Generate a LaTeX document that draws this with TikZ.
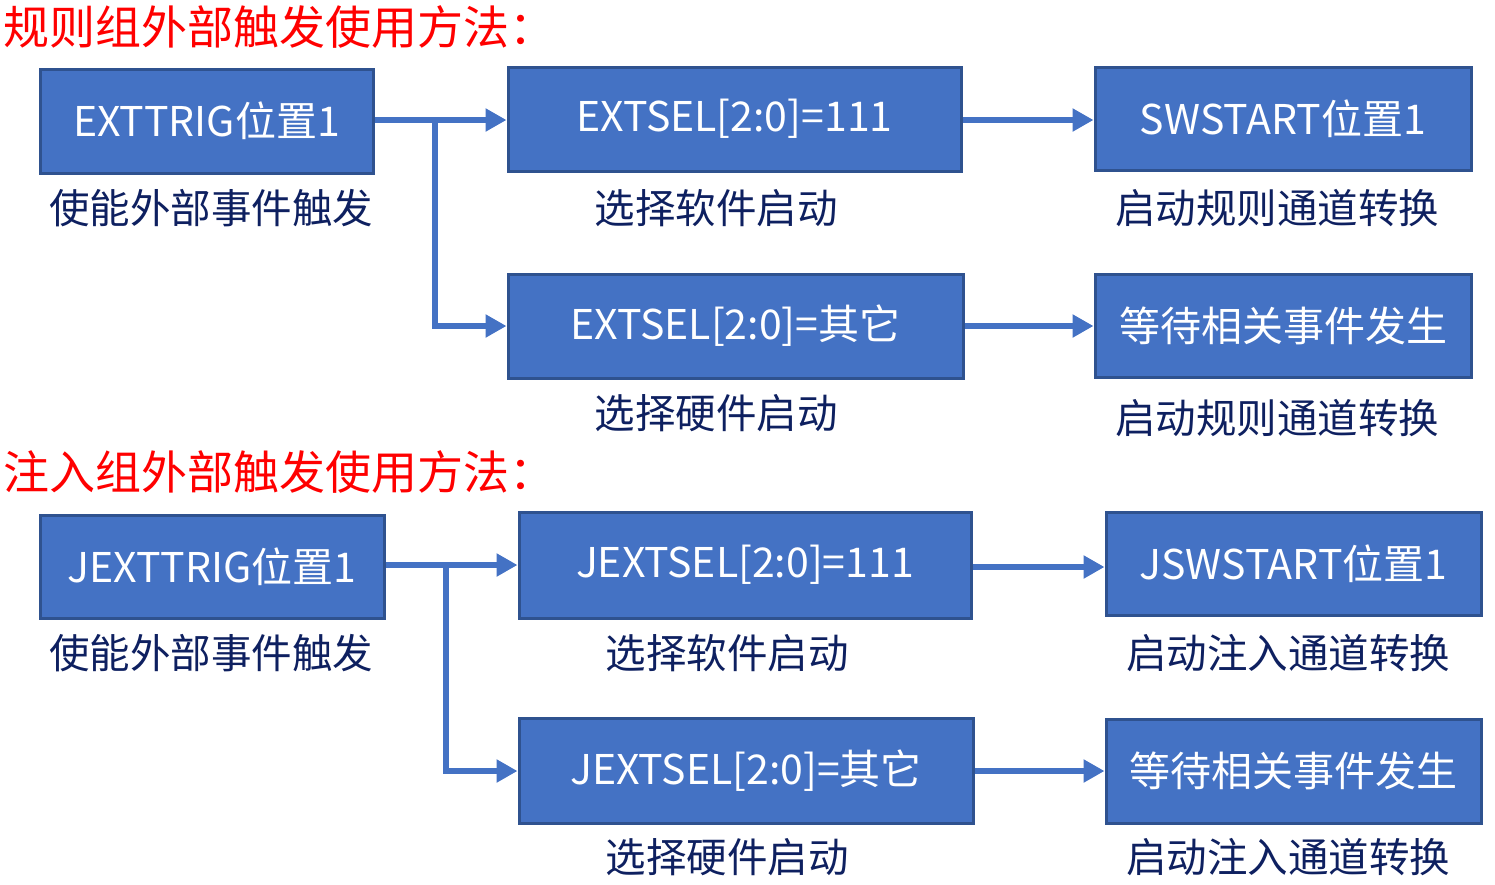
\documentclass[tikz,border=0pt]{standalone}
\usepackage{fontspec}
\setmainfont{Noto Sans CJK SC}
\usetikzlibrary{arrows.meta}
\definecolor{boxfill}{HTML}{4472C4}
\definecolor{boxline}{HTML}{2F528F}
\definecolor{lbl}{HTML}{0E2060}
\definecolor{ttl}{HTML}{FF0000}
\tikzset{
  blk/.style={draw=boxline, line width=3pt, fill=boxfill, text=white, inner sep=0pt,
    font=\fontsize{41}{45}\selectfont},
  lab/.style={text=lbl, inner sep=0pt, font=\fontsize{40.5}{44}\selectfont},
  ttlnode/.style={text=ttl, inner sep=0pt, anchor=west, font=\fontsize{46}{50}\selectfont},
  conn/.style={draw=boxfill, line width=6pt, -{Triangle[length=21pt,width=22pt]}},
  seg/.style={draw=boxfill, line width=6pt}
}
\begin{document}
\begin{tikzpicture}[x=1pt,y=-1pt]
\useasboundingbox (0,0) rectangle (1495,884);
% section 1
\node[ttlnode] (T1) at (3,27) {规则组外部触发使用方法：};
\node[blk, minimum width=333pt, minimum height=104pt] (A1) at (206.5,121) {EXTTRIG位置1};
\node[blk, minimum width=453pt, minimum height=104pt] (B1) at (734.5,119) {EXTSEL[2:0]=111};
\node[blk, minimum width=376pt, minimum height=103pt] (C1) at (1283,118.5) {SWSTART位置1};
\node[blk, minimum width=455pt, minimum height=104pt] (B2) at (735.5,326) {EXTSEL[2:0]=其它};
\node[blk, minimum width=376pt, minimum height=103pt] (C2) at (1283,325.5) {等待相关事件发生};
\node[lab] (L1) at (211,208) {使能外部事件触发};
\node[lab] (L2) at (716,208) {选择软件启动};
\node[lab] (L3) at (1277,208) {启动规则通道转换};
\node[lab] (L4) at (716,413) {选择硬件启动};
\node[lab] (L5) at (1277,418) {启动规则通道转换};
\coordinate (J1) at (435,120);
\draw[conn] (A1.east |- J1) -- (B1.west |- J1);
\draw[conn] (J1) |- (B2.west);
\draw[conn] (B1.east |- J1) -- (C1.west |- J1);
\draw[conn] (B2.east) -- (C2.west |- B2.east);
% section 2
\node[ttlnode] (T2) at (3,472) {注入组外部触发使用方法：};
\node[blk, minimum width=344pt, minimum height=103pt] (A2) at (212,566.5) {JEXTTRIG位置1};
\node[blk, minimum width=452pt, minimum height=106pt] (B3) at (745,565) {JEXTSEL[2:0]=111};
\node[blk, minimum width=375pt, minimum height=103pt] (C3) at (1293.5,563.5) {JSWSTART位置1};
\node[blk, minimum width=454pt, minimum height=105pt] (B4) at (746,770.5) {JEXTSEL[2:0]=其它};
\node[blk, minimum width=375pt, minimum height=104pt] (C4) at (1293.5,771) {等待相关事件发生};
\node[lab] (L6) at (211,653) {使能外部事件触发};
\node[lab] (L7) at (727,653) {选择软件启动};
\node[lab] (L8) at (1288,653) {启动注入通道转换};
\node[lab] (L9) at (727,857) {选择硬件启动};
\node[lab] (L10) at (1288,857) {启动注入通道转换};
\coordinate (J2) at (446,565);
\draw[conn] (A2.east |- J2) -- (B3.west |- J2);
\draw[conn] (J2) |- (B4.west |- 0,771);
\draw[conn] (B3.east |- 0,567) -- (C3.west |- 0,567);
\draw[conn] (B4.east |- 0,771) -- (C4.west |- 0,771);
\end{tikzpicture}
\end{document}
